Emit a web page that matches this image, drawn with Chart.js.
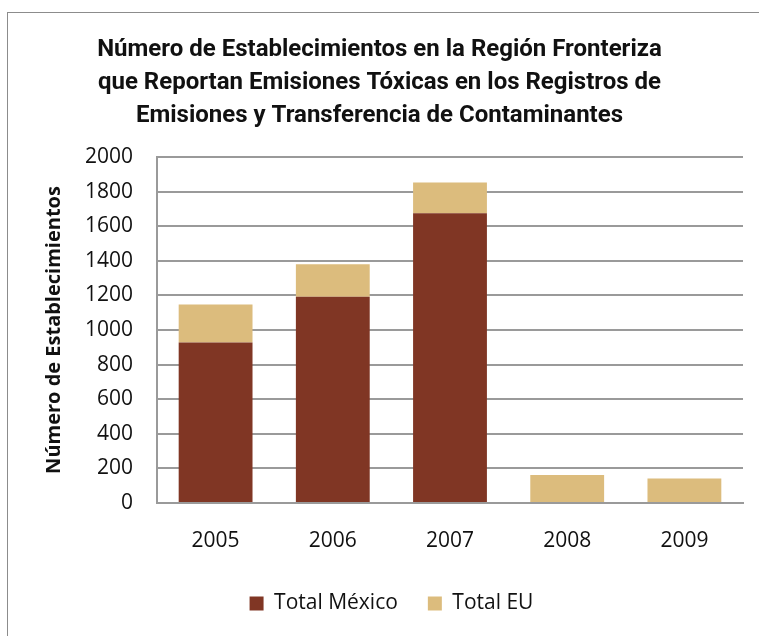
<!DOCTYPE html>
<html>
<head>
<meta charset="utf-8">
<script src="https://cdn.jsdelivr.net/npm/chart.js@4"></script>
<style>
  body { margin: 0; background: #fff; }
  #frame { position: absolute; left: 7px; top: 12px; width: 800px; height: 700px; border: 1px solid #8c8c8c; }
  #wrap { position: absolute; left: 0; top: 0; width: 759px; height: 636px; }
</style>
</head>
<body>
<div id="frame"></div>
<div id="wrap"><canvas id="chart"></canvas></div>
<script>
const years = ['2005', '2006', '2007', '2008', '2009'];
const totalMexico = [928, 1192, 1675, 0, 0];
const totalEU = [220, 188, 178, 162, 141];
const titleLines = [
    'Número de Establecimientos en la Región Fronteriza',
    'que Reportan Emisiones Tóxicas en los Registros de',
    'Emisiones y Transferencia de Contaminantes'
];
const yTicks = [0, 200, 400, 600, 800, 1000, 1200, 1400, 1600, 1800, 2000];

const gridColor = '#9a9a9a';
const textColor = '#111';

// the title and legend sit a bit right of the plot's centre in the original
const shiftBoxes = {
    id: 'shiftBoxes',
    afterLayout(chart) {
        chart.titleBlock.left += 8;
        chart.titleBlock.right += 8;
        chart.legend.left += 20;
        chart.legend.right += 20;
    }
};

const ctx = document.getElementById('chart').getContext('2d');
new Chart(ctx, {
    type: 'bar',
    data: {
        labels: years,
        datasets: [
            {
                label: 'Total México',
                data: totalMexico,
                backgroundColor: '#803624',
                borderWidth: 0,
                categoryPercentage: 0.63,
                barPercentage: 1
            },
            {
                label: 'Total EU',
                data: totalEU,
                backgroundColor: '#dcbc7d',
                borderWidth: 0,
                categoryPercentage: 0.63,
                barPercentage: 1
            }
        ]
    },
    plugins: [shiftBoxes],
    options: {
        responsive: true,
        maintainAspectRatio: false,
        animation: false,
        layout: { padding: { left: 0, right: 16, top: 0, bottom: 12 } },
        plugins: {
            title: {
                display: true,
                text: titleLines,
                color: textColor,
                font: { family: "Roboto, 'Open Sans', sans-serif", size: 24, weight: 'bold', lineHeight: 1.375 },
                padding: { top: 33, bottom: 25 }
            },
            legend: {
                position: 'bottom',
                labels: {
                    color: textColor,
                    boxWidth: 14,
                    boxHeight: 14,
                    padding: 30,
                    font: { family: "'Open Sans', sans-serif", size: 21 }
                }
            },
            tooltip: { enabled: false }
        },
        scales: {
            x: {
                stacked: true,
                grid: { display: false, drawTicks: false },
                border: { color: gridColor, width: 2 },
                ticks: { color: textColor, padding: 25, font: { family: "'Open Sans', sans-serif", size: 21 } },
                afterFit: (scale) => { scale.height = 60; }
            },
            y: {
                stacked: true,
                min: 0,
                max: 2000,
                afterBuildTicks: (scale) => { scale.ticks = yTicks.map(v => ({ value: v })); },
                grid: { color: gridColor, lineWidth: 2, drawTicks: false },
                border: { color: gridColor, width: 2 },
                ticks: {
                    color: textColor,
                    padding: 24,
                    font: { family: "'Open Sans', sans-serif", size: 21 },
                    callback: (v) => String(v)
                },
                title: {
                    display: true,
                    text: 'Número de Establecimientos',
                    color: textColor,
                    font: { family: "'Open Sans', sans-serif", size: 20, weight: 'bold' },
                    padding: { top: 42 }
                },
                afterFit: (scale) => { scale.width = 157; }
            }
        }
    }
});
</script>
</body>
</html>
